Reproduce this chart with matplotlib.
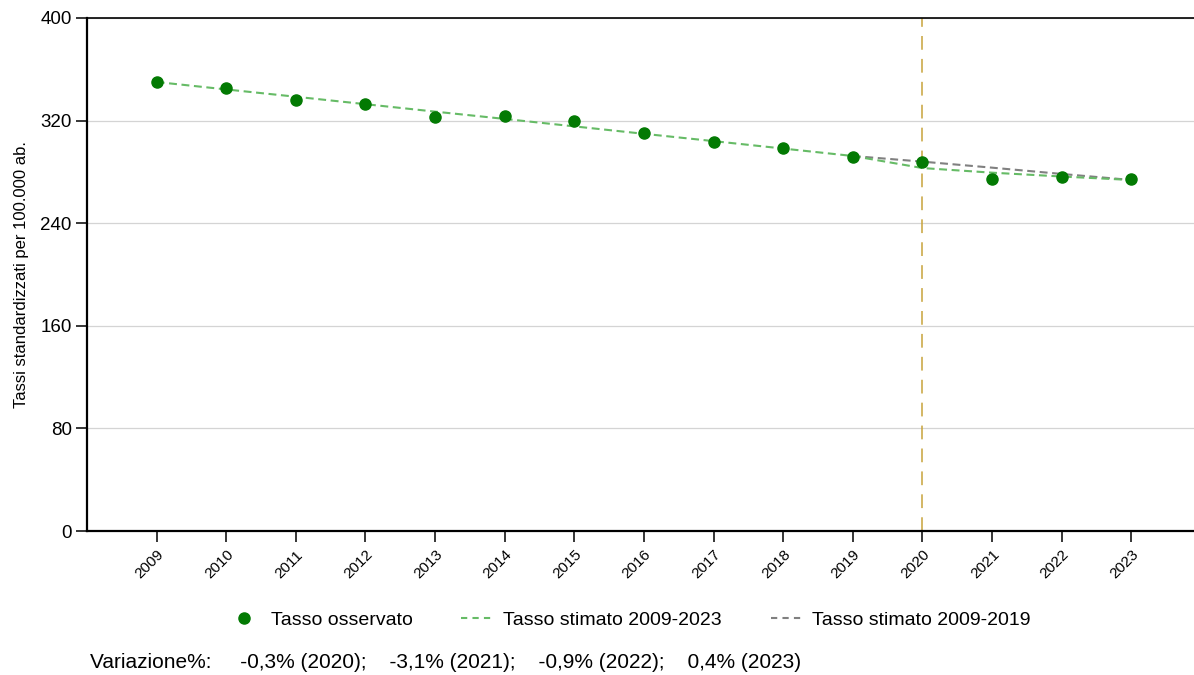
import numpy as np
import matplotlib
matplotlib.use('Agg')
import matplotlib.pyplot as plt
from matplotlib.lines import Line2D

plt.rcParams['font.family'] = ['Liberation Sans', 'DejaVu Sans']

anni = np.arange(2009, 2024)
tasso_oss = [350.1, 345.4, 336.1, 333.0, 322.8, 323.6, 319.7, 310.3,
             303.3, 298.6, 291.6, 287.7, 274.5, 276.0, 274.5]
stima_0923 = [350.1, 344.3, 338.6, 332.8, 327.0, 321.3, 315.5, 309.7,
              304.0, 298.2, 292.4, 283.0, 279.4, 276.4, 273.7]
anni_0919 = np.arange(2019, 2024)
stima_0919 = [292.4, 288.0, 283.3, 278.4, 273.7]
variazioni = ['-0,3% (2020)', '-3,1% (2021)', '-0,9% (2022)', '0,4% (2023)']

verde = '#037a03'
verde_chiaro = '#66bb66'
grigio = '#808080'

fig = plt.figure(figsize=(11.94, 6.75), dpi=100)
ax = fig.add_axes([87/1194, 1-531/675, 1-87/1194, (531-18)/675])

ax.plot(anni_0919, stima_0919, color=grigio, lw=1.5, dashes=(3.8, 2.2), zorder=2)
ax.plot(anni, stima_0923, color=verde_chiaro, lw=1.5, dashes=(3.8, 2.2), zorder=3)
ax.plot(anni, tasso_oss, 'o', color=verde, ms=8, zorder=4)
ax.axvline(2020, color='#c8a33a', lw=1.1, dashes=(9, 6), zorder=1)

ax.set_xlim(2008.0, 2023.9)
ax.set_ylim(0, 400)
ax.set_yticks([0, 80, 160, 240, 320, 400])
ax.set_xticks(anni)
ax.set_xticklabels([str(a) for a in anni], rotation=45, ha='right',
                   rotation_mode='anchor', fontsize=11)
ax.tick_params(axis='y', labelsize=13.5, length=8, width=1.1, pad=3)
ax.tick_params(axis='x', length=8, width=1.1, pad=4)
ax.grid(axis='y', color='#d4d4d4', lw=0.9)
ax.set_axisbelow(True)
for s in ['left', 'bottom']:
    ax.spines[s].set_linewidth(1.6)
ax.spines['top'].set_linewidth(1.2)
ax.spines['right'].set_visible(False)
ax.set_ylabel('Tassi standardizzati per 100.000 ab.', fontsize=12, labelpad=8)

handles = [
    Line2D([], [], marker='o', ls='none', color=verde, ms=8),
    Line2D([], [], color=verde_chiaro, lw=1.5, dashes=(3, 2.5)),
    Line2D([], [], color=grigio, lw=1.5, dashes=(3, 2.5)),
]
labels = ['Tasso osservato', 'Tasso stimato 2009-2023', 'Tasso stimato 2009-2019']
fig.legend(handles, labels, loc='center', bbox_to_anchor=(630/1194, 1-620/675),
           ncol=3, frameon=False, fontsize=14, handlelength=1.55,
           columnspacing=2.5, handletextpad=0.6)

fig.text(90/1194, 1-662/675, 'Variazione%:     ' + ';    '.join(variazioni),
         fontsize=15, va='center', ha='left')

fig.savefig('out.png', dpi=100)
